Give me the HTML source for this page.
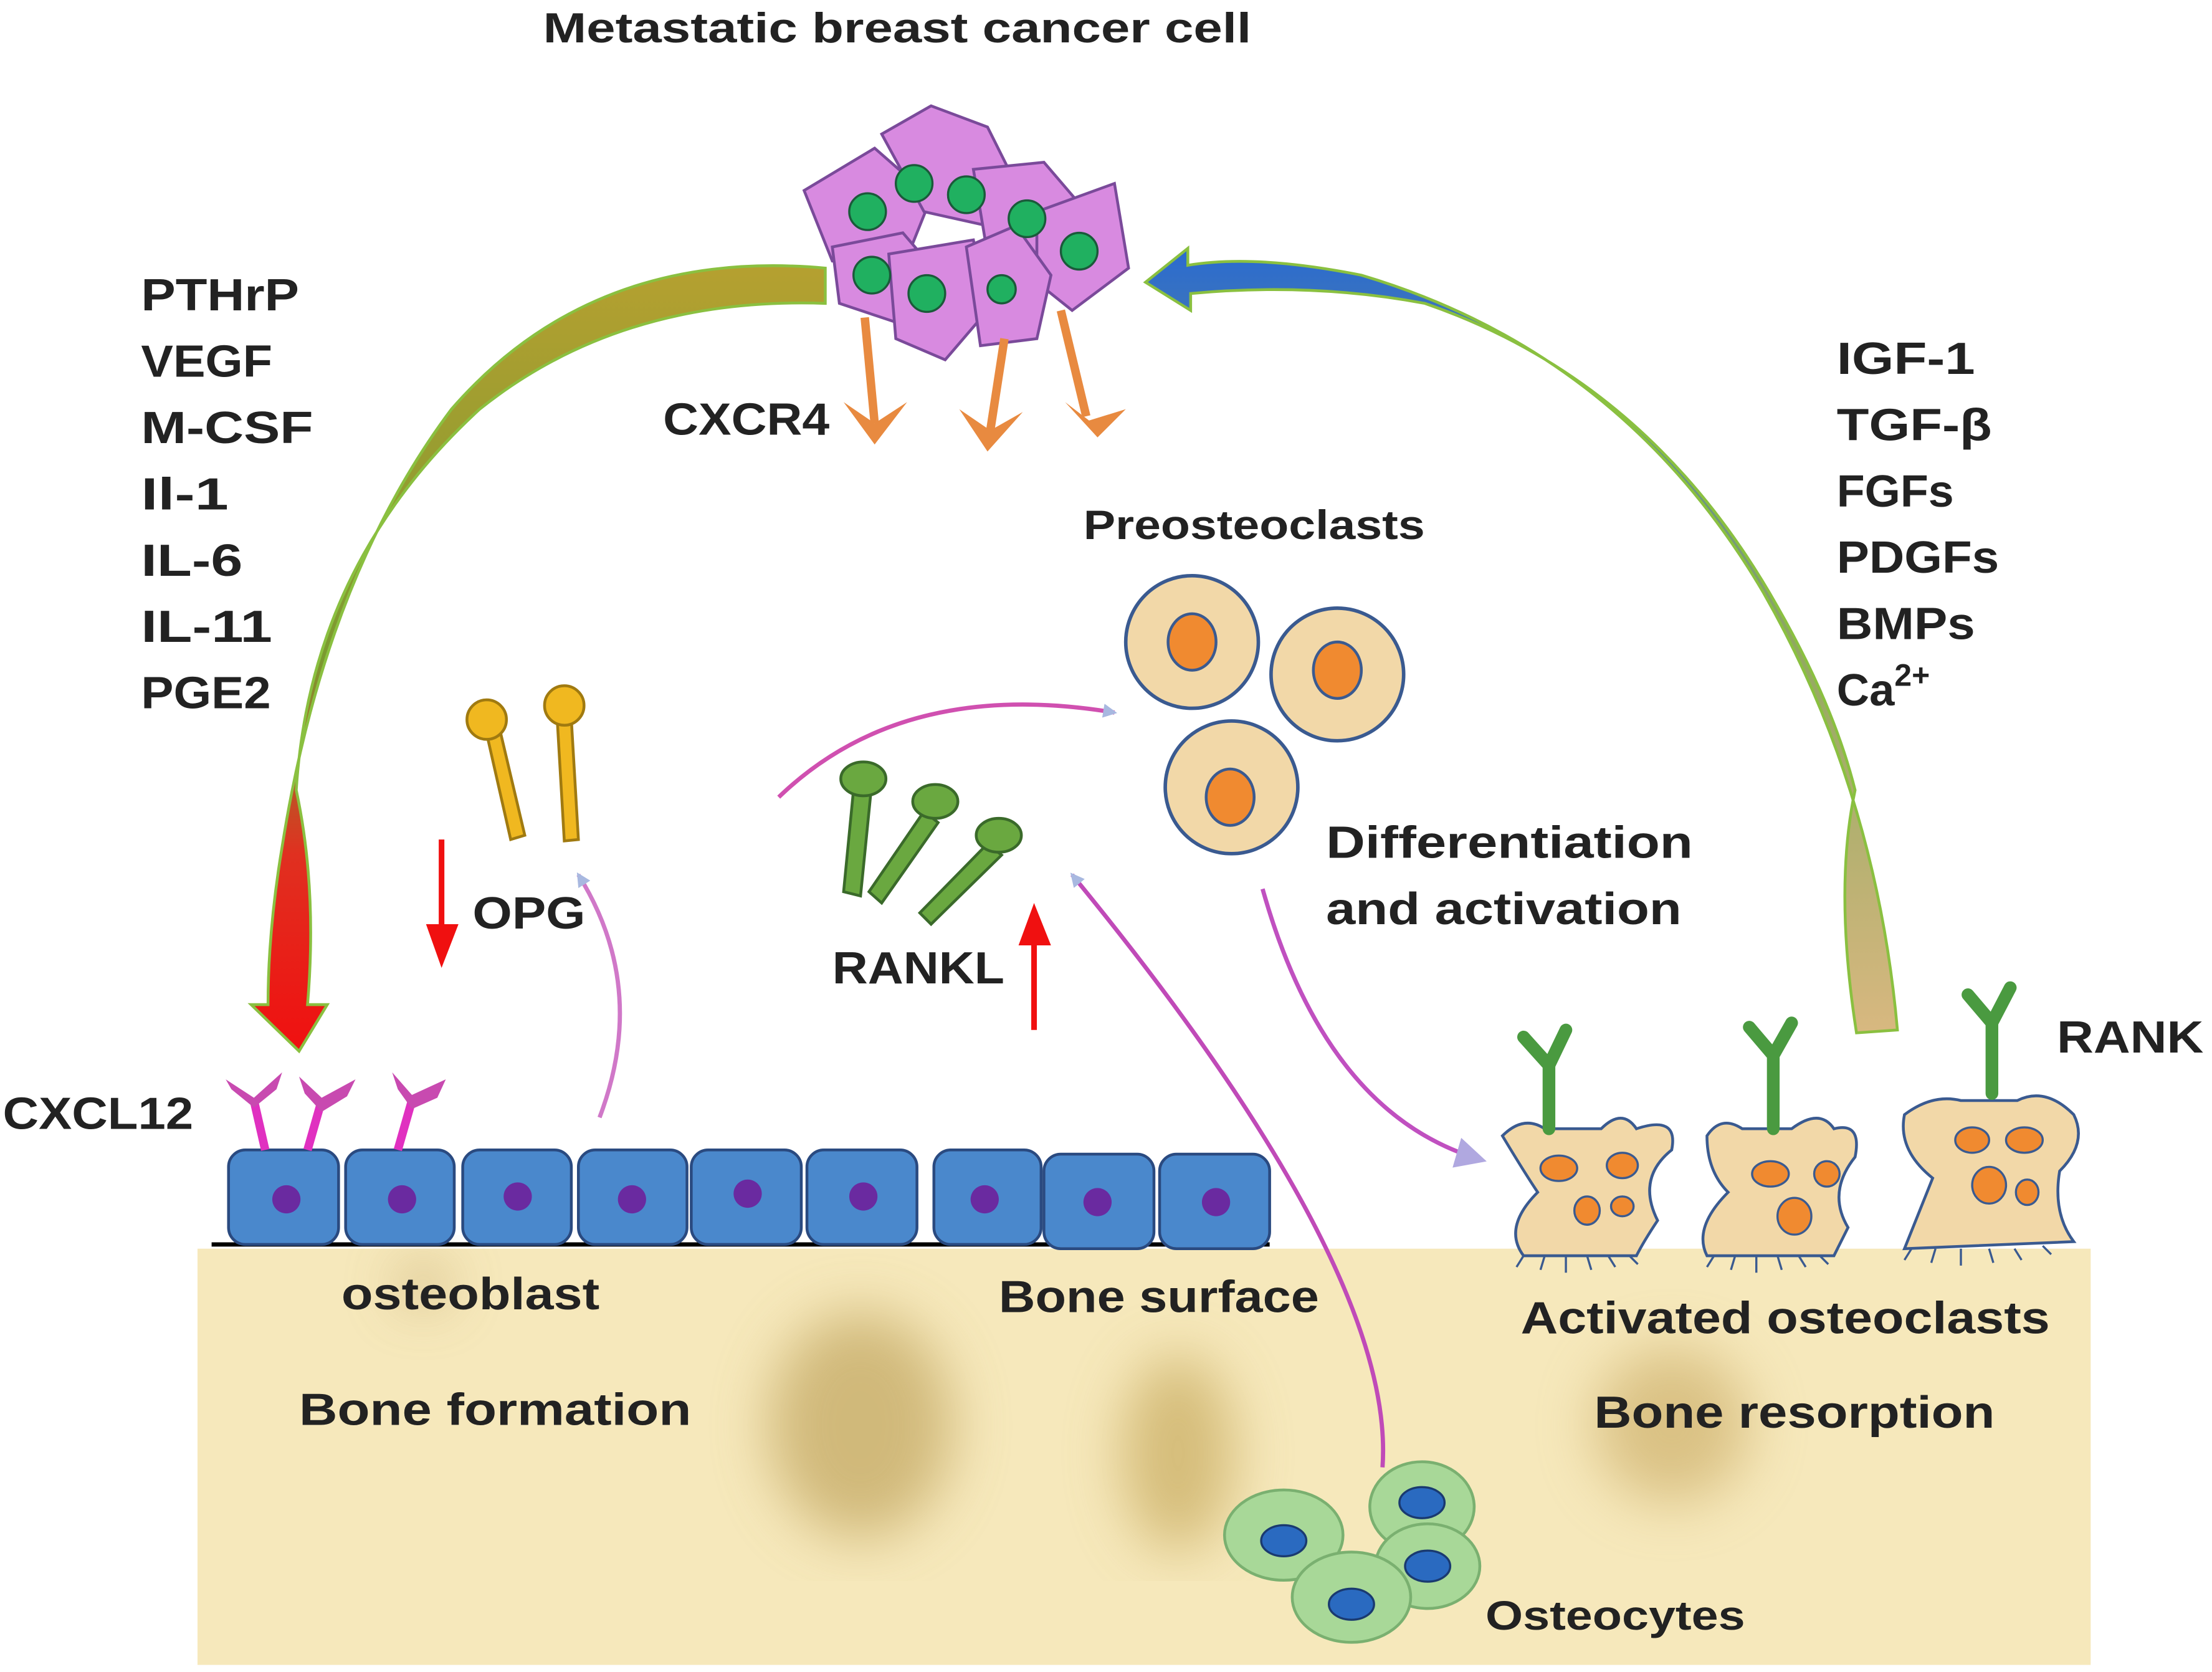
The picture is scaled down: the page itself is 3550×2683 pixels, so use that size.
<!DOCTYPE html>
<html><head><meta charset="utf-8"><style>
html,body{margin:0;padding:0;background:#fff;width:3550px;height:2683px;overflow:hidden}
svg{display:block}
text{font-family:"Liberation Sans","DejaVu Sans",sans-serif;font-weight:bold;fill:#222}
</style></head><body>
<svg width="3550" height="2683" viewBox="0 0 1568 1185" xmlns="http://www.w3.org/2000/svg">
<defs>
<linearGradient id="lg" x1="0" y1="0" x2="0" y2="1"><stop offset="0" stop-color="#b5a030"/><stop offset="0.5" stop-color="#7a9a30"/><stop offset="0.75" stop-color="#e03020"/><stop offset="1" stop-color="#f01010"/></linearGradient>
<linearGradient id="rg" x1="0" y1="1" x2="0" y2="0"><stop offset="0" stop-color="#d8b880"/><stop offset="0.5" stop-color="#90a860"/><stop offset="1" stop-color="#2a6ad0"/></linearGradient>
<filter id="bl"><feGaussianBlur stdDeviation="20"/></filter>
<marker id="ah" markerWidth="10" markerHeight="10" refX="8" refY="5" orient="auto" markerUnits="userSpaceOnUse"><path d="M0,0 L10,5 L0,10 Z" fill="#a8b8e0"/></marker>
<marker id="ahp" markerWidth="22" markerHeight="22" refX="18" refY="11" orient="auto" markerUnits="userSpaceOnUse"><path d="M0,0 L22,11 L0,22 Z" fill="#b0a8e0"/></marker>
</defs>
<!-- bone -->
<rect x="140" y="885" width="1342" height="295" fill="#f6e8bb"/>
<g filter="url(#bl)" opacity="0.6">
<ellipse cx="610" cy="1010" rx="65" ry="80" fill="#b89a50"/>
<ellipse cx="835" cy="1030" rx="40" ry="70" fill="#c0a050"/>
<ellipse cx="1185" cy="1010" rx="55" ry="55" fill="#c8a860"/>
<ellipse cx="300" cy="910" rx="18" ry="14" fill="#b09050"/>
</g>
<line x1="150" y1="882" x2="900" y2="882" stroke="#000" stroke-width="3"/>
<!-- osteoblasts -->
<g fill="#4a88cc" stroke="#2a4a80" stroke-width="2">
<rect x="162" y="815" width="78" height="67" rx="12"/>
<rect x="245" y="815" width="77" height="67" rx="12"/>
<rect x="328" y="815" width="77" height="67" rx="12"/>
<rect x="410" y="815" width="77" height="67" rx="12"/>
<rect x="490" y="815" width="78" height="67" rx="12"/>
<rect x="572" y="815" width="78" height="67" rx="12"/>
<rect x="662" y="815" width="76" height="67" rx="12"/>
<rect x="740" y="818" width="78" height="67" rx="12"/>
<rect x="822" y="818" width="78" height="67" rx="12"/>
</g>
<g fill="#6a2aa0">
<circle cx="203" cy="850" r="10"/><circle cx="285" cy="850" r="10"/><circle cx="367" cy="848" r="10"/><circle cx="448" cy="850" r="10"/><circle cx="530" cy="846" r="10"/><circle cx="612" cy="848" r="10"/><circle cx="698" cy="850" r="10"/><circle cx="778" cy="852" r="10"/><circle cx="862" cy="852" r="10"/>
</g>
<!-- CXCL12 receptors -->
<g stroke="#e030c0" stroke-width="6" fill="none">
<path d="M188,815 L180,780"/><path d="M218,815 L228,780"/><path d="M282,815 L292,780"/>
</g>
<g fill="#c84ab0">
<path d="M160,765 L180,778 L200,760 L196,772 L180,785 L164,772Z"/>
<path d="M212,763 L228,778 L252,765 L246,777 L228,788 L216,775Z"/>
<path d="M278,760 L292,776 L316,765 L310,778 L292,786 L282,772Z"/>
</g>
<!-- big arrows: ribbon style -->
<path d="M585,190 Q420,175 320,290 Q230,410 200,600 Q190,660 190,712 L178,712 L212,745 L232,712 L218,712 Q225,630 210,560 Q220,400 340,290 Q440,210 585,215 Z" fill="url(#lg)" stroke="#8ac040" stroke-width="2"/>
<path d="M1345,730 Q1330,560 1250,420 Q1150,250 965,195 Q890,180 842,188 L842,176 L812,200 L844,220 L844,208 Q930,200 1010,215 Q1170,270 1260,430 Q1300,500 1315,560 Q1300,630 1316,732 Z" fill="url(#rg)" stroke="#8ac040" stroke-width="2"/>
<!-- cancer cells -->
<g stroke="#7a4a9a" stroke-width="2" fill="#d88ae0">
<path d="M570,135 L620,105 L660,140 L640,190 L590,185 Z"/>
<path d="M625,95 L660,75 L700,90 L720,130 L700,160 L655,150 Z"/>
<path d="M690,120 L740,115 L770,150 L740,190 L700,180 Z"/>
<path d="M735,150 L790,130 L800,190 L760,220 L735,200 Z"/>
<path d="M590,175 L640,165 L670,200 L640,230 L595,215 Z"/>
<path d="M630,180 L690,170 L700,220 L670,255 L635,240 Z"/>
<path d="M685,175 L720,160 L745,195 L735,240 L695,245 Z"/>
</g>
<g fill="#20b060" stroke="#1a5a3a" stroke-width="1.5">
<circle cx="615" cy="150" r="13"/><circle cx="648" cy="130" r="13"/><circle cx="685" cy="138" r="13"/><circle cx="728" cy="155" r="13"/><circle cx="765" cy="178" r="13"/><circle cx="618" cy="195" r="13"/><circle cx="657" cy="208" r="13"/><circle cx="710" cy="205" r="10"/>
</g>
<!-- CXCR4 -->
<g stroke="#e88a40" stroke-width="6" fill="none">
<path d="M613,225 L620,300"/><path d="M712,240 L702,305"/><path d="M752,220 L770,295"/>
</g>
<g fill="#e88a40">
<path d="M598,285 L620,315 L643,285 L620,300Z"/>
<path d="M680,290 L700,320 L725,292 L702,305Z"/>
<path d="M755,285 L778,310 L798,290 L772,298Z"/>
</g>
<!-- OPG -->
<g fill="#f0b820" stroke="#a07a10" stroke-width="2">
<path d="M345,520 L355,520 L372,592 L362,595 Z"/><circle cx="345" cy="510" r="14"/>
<path d="M395,510 L405,510 L410,595 L400,596 Z"/><circle cx="400" cy="500" r="14"/>
</g>
<!-- RANKL -->
<g fill="#6aa840" stroke="#3a6a2a" stroke-width="2">
<path d="M605,560 L618,555 L610,635 L598,632 Z"/><ellipse cx="612" cy="552" rx="16" ry="12"/>
<path d="M655,575 L665,583 L625,640 L616,632 Z"/><ellipse cx="663" cy="568" rx="16" ry="12"/>
<path d="M700,598 L710,606 L660,655 L652,647 Z"/><ellipse cx="708" cy="592" rx="16" ry="12"/>
</g>
<!-- preosteoclasts -->
<g fill="#f2d8a8" stroke="#3a5a90" stroke-width="2.5">
<circle cx="845" cy="455" r="47"/><circle cx="948" cy="478" r="47"/><circle cx="873" cy="558" r="47"/>
</g>
<g fill="#f08a30" stroke="#3a5a90" stroke-width="2">
<ellipse cx="845" cy="455" rx="17" ry="20"/><ellipse cx="948" cy="475" rx="17" ry="20"/><ellipse cx="872" cy="565" rx="17" ry="20"/>
</g>
<!-- osteoclasts -->
<g fill="#f2d8a8" stroke="#3a5a90" stroke-width="2">
<path d="M1065,805 Q1080,790 1095,800 L1135,800 Q1150,785 1160,800 Q1190,790 1185,815 Q1160,835 1175,865 Q1165,880 1160,890 L1080,890 Q1065,870 1090,845 Q1080,830 1065,805 Z"/>
<path d="M1210,805 Q1220,790 1235,800 L1270,800 Q1290,785 1300,800 Q1320,795 1315,820 Q1295,845 1310,870 L1300,890 L1210,890 Q1200,870 1225,845 Q1210,830 1210,805 Z"/>
<path d="M1350,790 Q1370,775 1390,780 L1430,780 Q1450,770 1470,790 Q1480,810 1460,830 Q1455,860 1470,880 L1350,885 Q1360,860 1370,835 Q1345,815 1350,790 Z"/>
</g>
<g stroke="#3a5a90" stroke-width="1.5" fill="none">
<path d="M1080,890 l-5,8 M1095,890 l-3,10 M1110,890 l0,12 M1125,890 l3,10 M1140,890 l5,8 M1155,890 l6,6"/>
<path d="M1215,890 l-5,8 M1230,890 l-3,10 M1245,890 l0,12 M1260,890 l3,10 M1275,890 l5,8 M1290,890 l6,6"/>
<path d="M1355,885 l-5,8 M1372,885 l-3,10 M1390,885 l0,12 M1410,885 l3,10 M1428,885 l5,8 M1448,883 l6,6"/>
</g>
<g fill="#f08a30" stroke="#3a5a90" stroke-width="1.5">
<ellipse cx="1105" cy="828" rx="13" ry="9"/><ellipse cx="1150" cy="826" rx="11" ry="9"/><ellipse cx="1125" cy="858" rx="9" ry="10"/><ellipse cx="1150" cy="855" rx="8" ry="7"/>
<ellipse cx="1255" cy="832" rx="13" ry="9"/><ellipse cx="1295" cy="832" rx="9" ry="9"/><ellipse cx="1272" cy="862" rx="12" ry="13"/>
<ellipse cx="1398" cy="808" rx="12" ry="9"/><ellipse cx="1435" cy="808" rx="13" ry="9"/><ellipse cx="1410" cy="840" rx="12" ry="13"/><ellipse cx="1437" cy="845" rx="8" ry="9"/>
</g>
<!-- RANK receptors -->
<g stroke="#4a9a40" stroke-width="9" fill="none" stroke-linecap="round">
<path d="M1098,800 L1098,755 L1080,735 M1098,755 L1110,730"/>
<path d="M1257,800 L1257,748 L1240,728 M1257,748 L1270,725"/>
<path d="M1412,775 L1412,725 L1395,705 M1412,725 L1425,700"/>
</g>
<!-- osteocytes -->
<g fill="#a8d898" stroke="#7ab070" stroke-width="2">
<ellipse cx="1008" cy="1068" rx="37" ry="32"/><ellipse cx="910" cy="1088" rx="42" ry="32"/><ellipse cx="1012" cy="1110" rx="37" ry="30"/><ellipse cx="958" cy="1132" rx="42" ry="32"/>
</g>
<g fill="#2a6ac0" stroke="#1a3a70" stroke-width="1.5">
<ellipse cx="1008" cy="1065" rx="16" ry="11"/><ellipse cx="910" cy="1092" rx="16" ry="11"/><ellipse cx="1012" cy="1110" rx="16" ry="11"/><ellipse cx="958" cy="1137" rx="16" ry="11"/>
</g>
<!-- thin arrows -->
<path d="M425,792 Q460,700 410,620" stroke="#d078c8" stroke-width="3" fill="none" marker-end="url(#ah)"/>
<path d="M552,565 Q640,480 790,505" stroke="#d050b0" stroke-width="3" fill="none" marker-end="url(#ah)"/>
<path d="M980,1040 Q990,900 760,620" stroke="#c04ab8" stroke-width="3" fill="none" marker-end="url(#ah)"/>
<path d="M895,630 Q940,790 1050,822" stroke="#c050c0" stroke-width="3" fill="none" marker-end="url(#ahp)"/>
<!-- red arrows -->
<path d="M313,595 L313,660" stroke="#f01010" stroke-width="4"/><path d="M302,655 L313,686 L325,655 Z" fill="#f01010"/>
<path d="M733,730 L733,665" stroke="#f01010" stroke-width="4"/><path d="M722,670 L733,640 L745,670 Z" fill="#f01010"/>
<!-- text -->
<text x="385" y="30" font-size="30" textLength="502" lengthAdjust="spacingAndGlyphs">Metastatic breast cancer cell</text>
<g font-size="32">
<text x="100" y="220" textLength="112" lengthAdjust="spacingAndGlyphs">PTHrP</text>
<text x="100" y="267" textLength="93" lengthAdjust="spacingAndGlyphs">VEGF</text>
<text x="100" y="314" textLength="122" lengthAdjust="spacingAndGlyphs">M-CSF</text>
<text x="100" y="361" textLength="62" lengthAdjust="spacingAndGlyphs">Il-1</text>
<text x="100" y="408" textLength="72" lengthAdjust="spacingAndGlyphs">IL-6</text>
<text x="100" y="455" textLength="93" lengthAdjust="spacingAndGlyphs">IL-11</text>
<text x="100" y="502" textLength="92" lengthAdjust="spacingAndGlyphs">PGE2</text>
<text x="1302" y="265" textLength="98" lengthAdjust="spacingAndGlyphs">IGF-1</text>
<text x="1302" y="312" textLength="110" lengthAdjust="spacingAndGlyphs">TGF-β</text>
<text x="1302" y="359" textLength="83" lengthAdjust="spacingAndGlyphs">FGFs</text>
<text x="1302" y="406" textLength="115" lengthAdjust="spacingAndGlyphs">PDGFs</text>
<text x="1302" y="453" textLength="98" lengthAdjust="spacingAndGlyphs">BMPs</text>
<text x="1302" y="500">Ca<tspan font-size="22" dy="-14">2+</tspan></text>
<text x="470" y="308" textLength="118" lengthAdjust="spacingAndGlyphs">CXCR4</text>
<text x="335" y="658" textLength="80" lengthAdjust="spacingAndGlyphs">OPG</text>
<text x="590" y="697" textLength="122" lengthAdjust="spacingAndGlyphs">RANKL</text>
<text x="940" y="608" textLength="260" lengthAdjust="spacingAndGlyphs">Differentiation</text>
<text x="940" y="655" textLength="252" lengthAdjust="spacingAndGlyphs">and activation</text>
<text x="1458" y="746" textLength="104" lengthAdjust="spacingAndGlyphs">RANK</text>
<text x="2" y="800" textLength="135" lengthAdjust="spacingAndGlyphs">CXCL12</text>
<text x="242" y="928" textLength="183" lengthAdjust="spacingAndGlyphs">osteoblast</text>
<text x="708" y="930" textLength="227" lengthAdjust="spacingAndGlyphs">Bone surface</text>
<text x="212" y="1010" textLength="278" lengthAdjust="spacingAndGlyphs">Bone formation</text>
<text x="1078" y="945" textLength="375" lengthAdjust="spacingAndGlyphs">Activated osteoclasts</text>
<text x="1130" y="1012" textLength="284" lengthAdjust="spacingAndGlyphs">Bone resorption</text>
</g>
<text x="768" y="382" font-size="29" textLength="242" lengthAdjust="spacingAndGlyphs">Preosteoclasts</text>
<text x="1053" y="1155" font-size="29" textLength="184" lengthAdjust="spacingAndGlyphs">Osteocytes</text>
</svg>
</body></html>
